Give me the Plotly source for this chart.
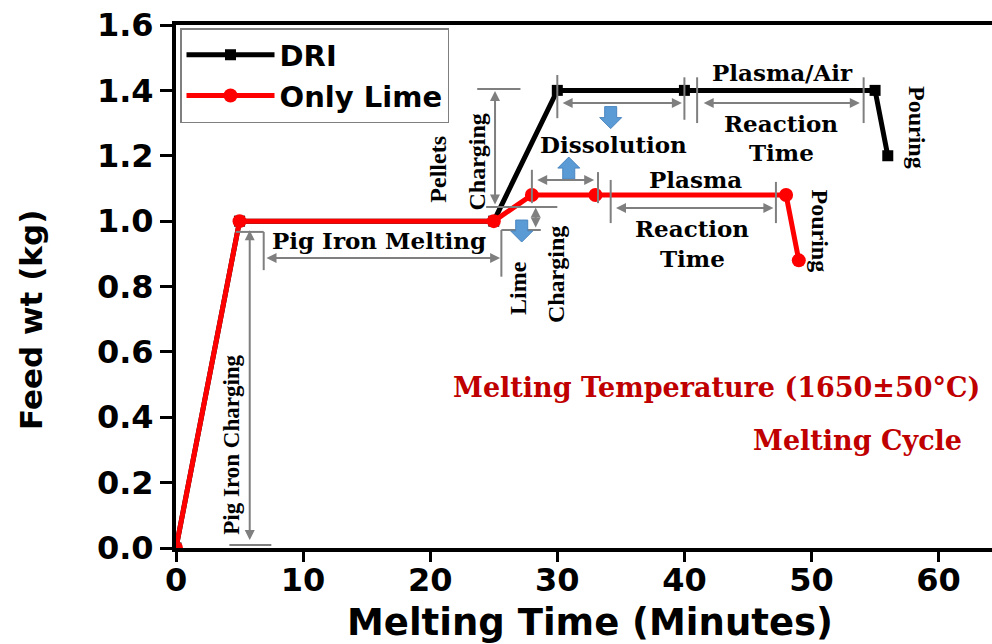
import plotly.graph_objects as go

# Feed weight over the melting cycle
time_dri = [0, 5, 25, 30, 40, 55, 56]
wt_dri = [0, 1.0, 1.0, 1.4, 1.4, 1.4, 1.2]
time_lime = [0, 5, 25, 28, 33, 48, 49]
wt_lime = [0, 1.0, 1.0, 1.08, 1.08, 1.08, 0.88]

x_ticks = [0, 10, 20, 30, 40, 50, 60]
y_ticks = [0.0, 0.2, 0.4, 0.6, 0.8, 1.0, 1.2, 1.4, 1.6]

X_RANGE = [0, 64.2]
Y_RANGE = [0, 1.6]
W, H = 992, 644
M_L, M_R, M_T, M_B = 176, 0, 25, 96
PLOT_W = W - M_L - M_R
PLOT_H = H - M_T - M_B
DX = (X_RANGE[1] - X_RANGE[0]) / PLOT_W   # minutes per pixel
DY = (Y_RANGE[1] - Y_RANGE[0]) / PLOT_H   # kg per pixel

GRAY = "#7f7f7f"
BLUE = "#5b9bd5"
DARKRED = "#c00000"
SERIF_H = "DejaVu Serif"
SERIF_V = "Liberation Serif"
SANS = "DejaVu Sans"

fig = go.Figure()
fig.add_trace(go.Scatter(
    x=time_dri, y=wt_dri, name="DRI", mode="lines+markers",
    line=dict(color="black", width=5),
    marker=dict(symbol="square", size=11, color="black"),
))
fig.add_trace(go.Scatter(
    x=time_lime, y=wt_lime, name="Only Lime", mode="lines+markers",
    line=dict(color="#ff0000", width=5),
    marker=dict(symbol="circle", size=14, color="#ff0000"),
))

shapes = []
annotations = []


def seg(x0, y0, x1, y1):
    shapes.append(dict(type="line", xref="x", yref="y", x0=x0, y0=y0, x1=x1, y1=y1,
                       line=dict(color=GRAY, width=2)))


def dbl_arrow(x0, y0, x1, y1):
    annotations.append(dict(x=x1, y=y1, ax=x0, ay=y0, xref="x", yref="y",
                            axref="x", ayref="y", text="", showarrow=True,
                            arrowhead=2, arrowside="end+start", arrowsize=1,
                            arrowwidth=2, arrowcolor=GRAY, standoff=0, startstandoff=0))


def label(x, y, text, angle=0, size=23, color="black"):
    family = SERIF_H if angle == 0 else SERIF_V
    annotations.append(dict(x=x, y=y, xref="x", yref="y", text="<b>%s</b>" % text,
                            showarrow=False, textangle=angle,
                            font=dict(family=family, size=size, color=color)))


def block_arrow(cx, y_tip, up):
    # filled blue arrow, 22 px tall, head 22 px wide, shaft 12 px wide
    s = 1 if up else -1
    hw, sw = 11 * DX, 6 * DX
    tip = y_tip
    neck = y_tip - s * 11 * DY
    tail = y_tip - s * 22 * DY
    pts = [(cx, tip), (cx + hw, neck), (cx + sw, neck), (cx + sw, tail),
           (cx - sw, tail), (cx - sw, neck), (cx - hw, neck)]
    path = "M " + " L ".join("%.4f,%.4f" % p for p in pts) + " Z"
    shapes.append(dict(type="path", xref="x", yref="y", path=path,
                       fillcolor=BLUE, line=dict(color="#4a86c0", width=1)))


# Pig iron charging
seg(4.7, 0.967, 6.9, 0.967)
seg(4.2, 0.009, 7.5, 0.009)
dbl_arrow(5.8, 0.02, 5.8, 0.972)
label(4.3, 0.315, "Pig Iron Charging", angle=-90, size=23)

# Pig iron melting
seg(6.9, 0.967, 6.9, 0.85)
seg(25.6, 0.973, 25.6, 0.83)
dbl_arrow(7.0, 0.887, 25.5, 0.887)
label(16.0, 0.94, "Pig Iron Melting")

# Pellets charging
seg(23.7, 1.404, 27.1, 1.404)
seg(24.4, 1.043, 30.0, 1.043)
dbl_arrow(25.1, 1.046, 25.1, 1.398)
label(20.6, 1.16, "Pellets", angle=-90, size=24)
label(23.7, 1.18, "Charging", angle=-90, size=24)

# Lime charging
seg(25.6, 0.973, 28.7, 0.973)
dbl_arrow(28.3, 0.976, 28.3, 1.042)
block_arrow(27.2, 0.936, up=False)
label(26.9, 0.795, "Lime", angle=-90, size=24)
label(29.9, 0.835, "Charging", angle=-90, size=24)

# Dissolution
for xv, ya, yb in [(30, 1.315, 1.447), (40, 1.31, 1.44), (41, 1.30, 1.44),
                   (54.1, 1.30, 1.44), (28, 1.055, 1.157), (33.2, 1.055, 1.15),
                   (34.2, 0.994, 1.126), (47.2, 0.994, 1.12)]:
    seg(xv, ya, xv, yb)
dbl_arrow(30.3, 1.361, 39.8, 1.361)
dbl_arrow(28.3, 1.126, 32.9, 1.126)
block_arrow(34.2, 1.283, up=False)
block_arrow(30.9, 1.196, up=True)
label(34.4, 1.233, "Dissolution")

# Plasma reaction (lime)
dbl_arrow(34.5, 1.04, 47.0, 1.04)
label(40.9, 1.126, "Plasma")
label(40.6, 0.976, "Reaction")
label(40.6, 0.887, "Time")

# Plasma/Air reaction (DRI)
dbl_arrow(41.4, 1.361, 53.8, 1.361)
label(47.7, 1.456, "Plasma/Air")
label(47.6, 1.30, "Reaction")
label(47.6, 1.21, "Time")

# Pouring
label(58.3, 1.288, "Pouring", angle=90, size=24)
label(50.7, 0.97, "Pouring", angle=90, size=24)

# Process notes
label(42.5, 0.4925, "Melting Temperature (1650±50°C)", size=27, color=DARKRED)
label(53.6, 0.33, "Melting Cycle", size=27, color=DARKRED)

# Axis titles
annotations.append(dict(xref="paper", yref="paper", x=(11 - M_L) / PLOT_W,
                        y=(548 - 320) / PLOT_H, text="<b>Feed wt (kg)</b>",
                        textangle=-90, showarrow=False,
                        font=dict(family=SANS, size=31, color="black")))
annotations.append(dict(xref="paper", yref="paper", x=(590 - M_L) / PLOT_W,
                        y=(548 - 622) / PLOT_H, text="<b>Melting Time (Minutes)</b>",
                        showarrow=False, yanchor="middle",
                        font=dict(family=SANS, size=37, color="black")))

tick_font = dict(family=SANS, size=32, color="black", weight="bold")
fig.update_layout(
    width=W, height=H,
    margin=dict(l=M_L, r=M_R, t=M_T, b=M_B, pad=0),
    plot_bgcolor="white", paper_bgcolor="white",
    shapes=shapes, annotations=annotations,
    showlegend=True,
    legend=dict(x=4 / PLOT_W, y=(548 - 28) / PLOT_H, xanchor="left", yanchor="top",
                bgcolor="white", bordercolor=GRAY, borderwidth=1.5,
                font=dict(family=SANS, size=29, color="black", weight="bold"),
                itemwidth=88, tracegroupgap=0),
    xaxis=dict(range=X_RANGE, tickvals=x_ticks, ticks="outside", ticklen=10,
               tickwidth=3, tickcolor="black", showline=True, linewidth=4,
               linecolor="black", mirror=True, showgrid=False, zeroline=False,
               tickfont=tick_font, ticklabelstandoff=-9),
    yaxis=dict(range=Y_RANGE, tickvals=y_ticks, tickformat=".1f", ticks="outside",
               ticklen=12, tickwidth=3, tickcolor="black", showline=True,
               linewidth=4, linecolor="black", showgrid=False, zeroline=False,
               tickfont=tick_font),
)

fig.write_html("out.html")
